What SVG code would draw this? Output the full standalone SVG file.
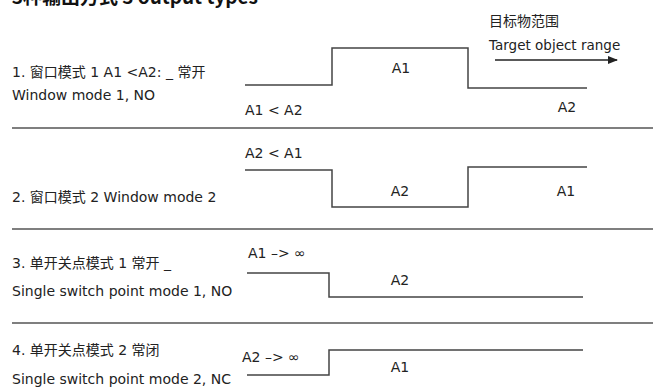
<svg xmlns="http://www.w3.org/2000/svg" width="658" height="390" viewBox="0 0 658 390">
<style>
.t{font-family:"DejaVu Sans","Noto Sans CJK SC",sans-serif;font-size:14px;fill:#222}
.s{font-family:"DejaVu Sans","Noto Sans CJK SC",sans-serif;font-size:13.5px;fill:#222}
.c{text-anchor:middle}
.title{font-family:"Noto Sans CJK SC","Noto Sans",sans-serif;font-size:19px;font-weight:bold;fill:#111}
.sig{fill:none;stroke:#444;stroke-width:1.5}
.sep{stroke:#555;stroke-width:1.5}
</style>
<defs>
<marker id="ah" markerWidth="10" markerHeight="8" refX="9" refY="4" orient="auto" markerUnits="userSpaceOnUse">
<polygon points="0,0 10,4 0,8" fill="#222"/>
</marker>
</defs>
<rect width="658" height="390" fill="#fff"/>
<text class="title" x="258" y="4" text-anchor="end">3种输出方式 3 output types</text>

<g id="legend">
<text class="t" x="489" y="26">目标物范围</text>
<text class="s" x="489" y="50">Target object range</text>
</g>

<g id="connectors">
<line class="sep" x1="12" y1="128" x2="653" y2="128"/>
<line class="sep" x1="12" y1="229" x2="653" y2="229"/>
<line class="sep" x1="12" y1="323" x2="653" y2="323"/>
<line x1="495" y1="60" x2="617" y2="60" stroke="#222" stroke-width="1.5" marker-end="url(#ah)"/>
</g>

<g id="mode1">
<text class="t" x="12" y="77">1. 窗口模式 1 A1 &lt;A2: _ 常开</text>
<text class="t" x="12" y="100">Window mode 1, NO</text>
<polyline class="sig" points="245,85 332,85 332,48 468,48 468,88 587,88"/>
<text class="t" x="245" y="115">A1 &lt; A2</text>
<text class="t c" x="401" y="73">A1</text>
<text class="t c" x="567" y="112">A2</text>
</g>

<g id="mode2">
<text class="t" x="245" y="158">A2 &lt; A1</text>
<text class="t" x="12" y="202">2. 窗口模式 2 Window mode 2</text>
<polyline class="sig" points="245,170 332,170 332,207 468,207 468,167 587,167"/>
<text class="t c" x="400" y="196">A2</text>
<text class="t c" x="566" y="196">A1</text>
</g>

<g id="mode3">
<text class="t" x="12" y="268">3. 单开关点模式 1 常开 _</text>
<text class="t" x="12" y="296">Single switch point mode 1, NO</text>
<text class="t" x="248" y="258">A1 –&gt; ∞</text>
<polyline class="sig" points="247,273 329,273 329,297 583,297"/>
<text class="t c" x="400" y="285">A2</text>
</g>

<g id="mode4">
<text class="t" x="12" y="355">4. 单开关点模式 2 常闭</text>
<text class="t" x="12" y="384">Single switch point mode 2, NC</text>
<text class="t" x="242" y="362">A2 –&gt; ∞</text>
<polyline class="sig" points="247,375 329,375 329,350 583,350"/>
<text class="t c" x="400" y="372">A1</text>
</g>
</svg>
